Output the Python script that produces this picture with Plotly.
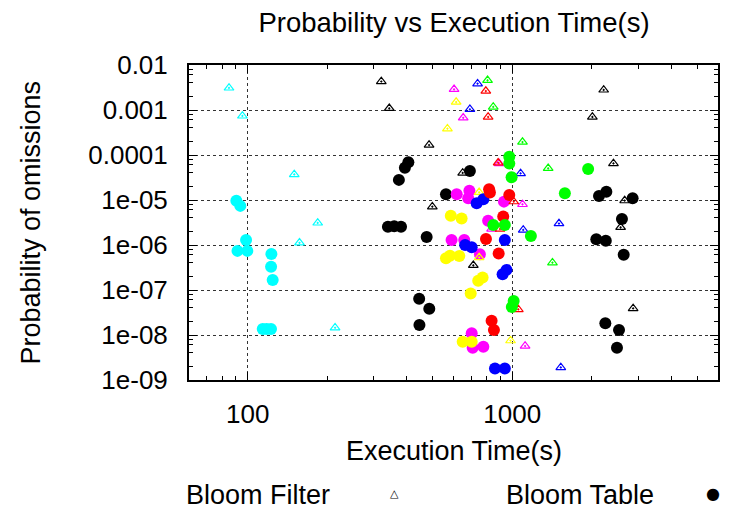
import math
import plotly.graph_objects as go

# ---------------- data ----------------
cyan_filter_x = [85, 95.5, 150, 184, 157, 214]
cyan_filter_y = [3.1e-3, 7.4e-4, 3.7e-5, 3.1e-6, 1.12e-6, 1.45e-8]
cyan_table_x = [90.6, 93.8, 98.6, 91.5, 99.7, 122.9, 122.6, 124.3, 114, 118, 122.5]
cyan_table_y = [9.6e-6, 7.4e-6, 1.29e-6, 7.4e-7, 7.4e-7, 6.3e-7, 3.3e-7, 1.67e-7, 1.36e-8, 1.36e-8, 1.36e-8]

black_filter_x = [320, 343, 485, 650, 499, 713, 2218, 2010, 2415, 2663, 2570, 2866]
black_filter_y = [4.3e-3, 1.09e-3, 1.67e-4, 4.0e-5, 7.1e-6, 3.54e-7, 2.8e-3, 7.0e-4, 6.5e-5, 9.7e-6, 2.47e-6, 3.9e-8]
black_table_x = [405, 393, 373, 692, 562, 339, 358, 380, 475, 445, 486, 446,
                 2129, 2270, 2853, 2600, 2080, 2259, 2640, 2250, 2535, 2490]
black_table_y = [6.9e-5, 5.2e-5, 2.8e-5, 4.4e-5, 1.34e-5, 2.55e-6, 2.6e-6, 2.55e-6, 1.5e-6, 6.4e-8, 3.85e-8, 1.67e-8,
                 1.23e-5, 1.53e-5, 1.1e-5, 3.8e-6, 1.34e-6, 1.25e-6, 6.1e-7, 1.82e-8, 1.29e-8, 5.2e-9]

magenta_filter_x = [603, 653, 893, 1094, 836, 1119]
magenta_filter_y = [2.88e-3, 6.7e-4, 6.5e-5, 8.0e-6, 2.27e-6, 5.7e-9]
magenta_table_x = [617, 689, 682, 931, 811, 590, 659, 755, 703, 709, 778]
magenta_table_y = [1.34e-5, 1.6e-5, 1.09e-5, 9.2e-6, 3.47e-6, 1.29e-6, 1.29e-6, 6.2e-7, 1.09e-8, 5.2e-9, 5.5e-9]

yellow_filter_x = [614, 569, 750, 750, 986]
yellow_filter_y = [1.5e-3, 3.85e-4, 1.48e-5, 5.3e-7, 7.5e-9]
yellow_table_x = [586, 644, 562, 582, 631, 773, 744, 697, 650, 703]
yellow_table_y = [4.48e-6, 3.9e-6, 5.1e-7, 5.8e-7, 5.7e-7, 1.9e-7, 1.6e-7, 8.4e-8, 7.1e-9, 7.1e-9]

blue_filter_x = [740, 692, 1076, 1101, 1503, 1527]
blue_filter_y = [3.85e-3, 1.04e-3, 3.9e-5, 2.16e-6, 3.0e-6, 1.9e-9]
blue_table_x = [734, 778, 664, 703, 938, 920, 952, 861, 938]
blue_table_y = [8.45e-6, 1.04e-5, 1.0e-6, 8.9e-7, 1.29e-6, 2.23e-7, 2.8e-7, 1.8e-9, 1.8e-9]

red_filter_x = [795, 811, 885, 1014, 899, 1055]
red_filter_y = [2.64e-3, 7.0e-4, 6.7e-5, 9.2e-6, 2.27e-6, 3.7e-8]
red_table_x = [818, 824, 975, 925, 796, 889, 836, 853]
red_table_y = [1.73e-5, 1.46e-5, 1.29e-5, 4.3e-6, 1.36e-6, 6.5e-7, 2.08e-8, 1.29e-8]

green_filter_x = [807, 848, 1094, 1368, 1420]
green_filter_y = [4.57e-3, 1.17e-3, 1.94e-4, 5.06e-5, 4.05e-7]
green_table_x = [975, 975, 995, 1937, 1582, 1177, 848, 938, 1013, 997]
green_table_y = [9.2e-5, 6.5e-5, 3.2e-5, 4.9e-5, 1.41e-5, 1.58e-6, 2.78e-6, 2.78e-6, 5.7e-8, 4.2e-8]

x_tick_vals = [100, 1000]
x_tick_text = ["100", "1000"]
y_tick_vals = [1e-2, 1e-3, 1e-4, 1e-5, 1e-6, 1e-7, 1e-8, 1e-9]
y_tick_text = ["0.01", "0.001", "0.0001", "1e-05", "1e-06", "1e-07", "1e-08", "1e-09"]
x_range = [60, 6000]
y_range = [1e-9, 1e-2]

title_text = "Probability vs Execution Time(s)"
x_title = "Execution Time(s)"
y_title = "Probability of omissions"
legend_names = ["Bloom Filter", "Bloom Table"]

# ---------------- figure ----------------
FONT = "Liberation Sans, Arial, sans-serif"
FS = 27     # titles / legend text
FS_TICK = 26

series = [
    ("#00FFFF", cyan_filter_x, cyan_filter_y, cyan_table_x, cyan_table_y),
    ("#000000", black_filter_x, black_filter_y, black_table_x, black_table_y),
    ("#FF00FF", magenta_filter_x, magenta_filter_y, magenta_table_x, magenta_table_y),
    ("#FFFF00", yellow_filter_x, yellow_filter_y, yellow_table_x, yellow_table_y),
    ("#0000FF", blue_filter_x, blue_filter_y, blue_table_x, blue_table_y),
    ("#FF0000", red_filter_x, red_filter_y, red_table_x, red_table_y),
    ("#00FF00", green_filter_x, green_filter_y, green_table_x, green_table_y),
]

fig = go.Figure()
for color, fx, fy, tx, ty in series:
    fig.add_trace(go.Scatter(
        x=fx, y=fy, mode="markers", name=legend_names[0], showlegend=False,
        marker=dict(symbol="triangle-up-open-dot", size=8.5, color=color,
                    line=dict(color=color, width=1.2)),
    ))
    fig.add_trace(go.Scatter(
        x=tx, y=ty, mode="markers", name=legend_names[1], showlegend=False,
        marker=dict(symbol="circle", size=12, color=color, line=dict(width=0)),
    ))

# minor tick positions (2..9 per decade on x, 2,4,6,8 on y)
x_minor = [m * 10 ** k for k in range(1, 4) for m in range(2, 10)]
y_minor = [m * 10.0 ** k for k in range(-9, -2) for m in (2, 4, 6, 8)]

axis_common = dict(
    type="log", showline=True, linecolor="black", linewidth=2, mirror="allticks",
    ticks="inside", ticklen=8, tickwidth=1, tickcolor="black",
    showgrid=True, gridcolor="#333333", griddash="dot", gridwidth=1,
    zeroline=False, tickfont=dict(family=FONT, size=FS_TICK, color="black"),
)

fig.update_xaxes(
    **axis_common,
    range=[math.log10(x_range[0]), math.log10(x_range[1])],
    tickmode="array", tickvals=x_tick_vals, ticktext=x_tick_text,
    ticklabelstandoff=10,
    minor=dict(tickmode="array", tickvals=x_minor, ticks="inside", ticklen=4,
               tickcolor="black", tickwidth=1, showgrid=False),
)
fig.update_yaxes(
    **axis_common,
    range=[math.log10(y_range[0]), math.log10(y_range[1])],
    tickmode="array", tickvals=y_tick_vals, ticktext=y_tick_text,
    ticklabelstandoff=14,
    minor=dict(tickmode="array", tickvals=y_minor, ticks="inside", ticklen=4,
               tickcolor="black", tickwidth=1, showgrid=False),
)

L, R, T, B = 189, 15, 65, 133
W, H = 733, 513
pw, ph = W - L - R, H - T - B

def px_x(p):
    return (p - L) / pw

def px_y(p):
    return (H - B - p) / ph

annotations = [
    dict(text=x_title, x=0.5, y=px_y(451), xref="paper", yref="paper",
         showarrow=False, font=dict(family=FONT, size=FS, color="black"),
         xanchor="center", yanchor="middle"),
    dict(text=y_title, x=px_x(30), y=0.5, xref="paper", yref="paper", textangle=-90,
         showarrow=False, font=dict(family=FONT, size=FS, color="black"),
         xanchor="center", yanchor="middle"),
    dict(text=legend_names[0], x=px_x(184), y=px_y(495), xref="paper", yref="paper",
         showarrow=False, font=dict(family=FONT, size=FS, color="black"),
         xanchor="left", yanchor="middle"),
    dict(text="\u25b3", x=px_x(394), y=px_y(493), xref="paper", yref="paper",
         showarrow=False, font=dict(family="DejaVu Sans", size=11, color="black"),
         xanchor="center", yanchor="middle"),
    dict(text=legend_names[1], x=px_x(504), y=px_y(495), xref="paper", yref="paper",
         showarrow=False, font=dict(family=FONT, size=FS, color="black"),
         xanchor="left", yanchor="middle"),
    dict(text="\u25cf", x=px_x(713), y=px_y(493), xref="paper", yref="paper",
         showarrow=False, font=dict(family="DejaVu Sans", size=16, color="black"),
         xanchor="center", yanchor="middle"),
]

fig.update_layout(
    width=W, height=H,
    margin=dict(l=L, r=R, t=T, b=B, pad=0),
    paper_bgcolor="white", plot_bgcolor="white",
    title=dict(text=title_text, x=(454 / W), xanchor="center", y=1 - 22 / H, yanchor="middle",
               font=dict(family=FONT, size=27.5, color="black")),
    annotations=annotations,
    showlegend=False,
)

fig.write_html(
    "out.html",
    config={"displayModeBar": False},
    post_script="document.body.style.margin='0';document.body.style.overflow='hidden';",
)
